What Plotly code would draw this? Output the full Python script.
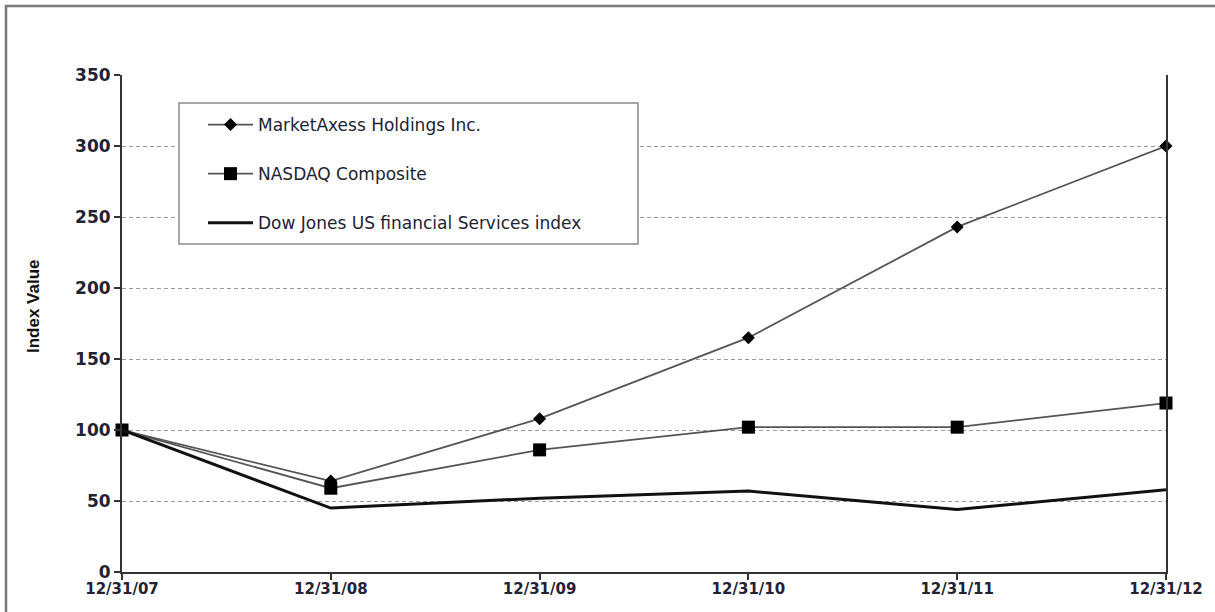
import plotly.graph_objects as go

dates = ["12/31/07", "12/31/08", "12/31/09", "12/31/10", "12/31/11", "12/31/12"]
marketaxess = [100, 64, 108, 165, 243, 300]
nasdaq = [100, 59, 86, 102, 102, 119]
dowjones = [100, 45, 52, 57, 44, 58]
y_ticks = [0, 50, 100, 150, 200, 250, 300, 350]

W, H = 1215, 612
L, R, T, B = 122, 1166, 75, 572
pw, ph = R - L, B - T


def px(x):
    return (x - L) / pw


def py(y):
    return (B - y) / ph


FONT = "DejaVu Sans, Liberation Sans, Arial"
TXT = "#222233"

fig = go.Figure()
fig.add_trace(go.Scatter(
    x=dates, y=marketaxess, name="MarketAxess Holdings Inc.", mode="lines+markers",
    line=dict(color="#555555", width=1.8),
    marker=dict(symbol="diamond", size=10, color="#000000"),
    legendgroup="a", cliponaxis=False))
fig.add_trace(go.Scatter(
    x=dates, y=nasdaq, name="NASDAQ Composite", mode="lines+markers",
    line=dict(color="#555555", width=1.8),
    marker=dict(symbol="square", size=13, color="#000000"),
    legendgroup="b", cliponaxis=False))
fig.add_trace(go.Scatter(
    x=dates, y=dowjones, name="Dow Jones US financial Services index", mode="lines",
    line=dict(color="#111111", width=3),
    legendgroup="c", cliponaxis=False))

shapes = [
    # outer frame
    dict(type="rect", xref="paper", yref="paper",
         x0=px(6), x1=px(1240), y0=py(640), y1=py(6),
         line=dict(color="#7a7a7a", width=2.5), fillcolor="rgba(0,0,0,0)", layer="below"),
    # legend box
    dict(type="rect", xref="paper", yref="paper",
         x0=px(179), x1=px(638), y0=py(244), y1=py(103),
         line=dict(color="#8a8a8a", width=1.5), fillcolor="#ffffff", layer="above"),
]

annotations = [
    dict(text="<b>Index Value</b>", xref="paper", yref="paper",
         x=px(33), y=py(306), xanchor="center", yanchor="middle",
         textangle=-90, showarrow=False,
         font=dict(family="Liberation Sans Narrow, Liberation Sans, Arial", size=17, color="#111111")),
]

fig.update_layout(
    width=W, height=H,
    margin=dict(l=L, r=W - R, t=T, b=H - B, pad=0),
    paper_bgcolor="#ffffff", plot_bgcolor="#ffffff",
    font=dict(family=FONT, color=TXT),
    showlegend=True,
    legend=dict(
        x=px(203), y=py(107), xanchor="left", yanchor="top",
        bgcolor="rgba(0,0,0,0)", borderwidth=0,
        font=dict(family=FONT, size=17, color=TXT),
        traceorder="grouped", tracegroupgap=24, itemwidth=45,
    ),
    shapes=shapes,
    annotations=annotations,
    xaxis=dict(
        type="category", range=[0, len(dates) - 1],
        showline=True, linecolor="#333333", linewidth=2,
        ticks="outside", ticklen=6, tickwidth=1.5, tickcolor="#333333",
        ticklabelstandoff=-4,
        showgrid=False, zeroline=False,
        tickfont=dict(family=FONT, size=15, color=TXT, weight="bold"),
    ),
    yaxis=dict(
        range=[0, 350], tickvals=y_ticks,
        showline=True, linecolor="#333333", linewidth=2, mirror=True,
        ticks="outside", ticklen=6, tickwidth=1.5, tickcolor="#333333",
        showgrid=True, gridcolor="#9a9a9a", gridwidth=1.3, griddash="4px,3px",
        zeroline=False,
        tickfont=dict(family=FONT, size=17, color=TXT, weight="bold"),
    ),
)

fig.write_html("out.html", config={"displayModeBar": False},
               post_script="document.body.style.margin='0';")
